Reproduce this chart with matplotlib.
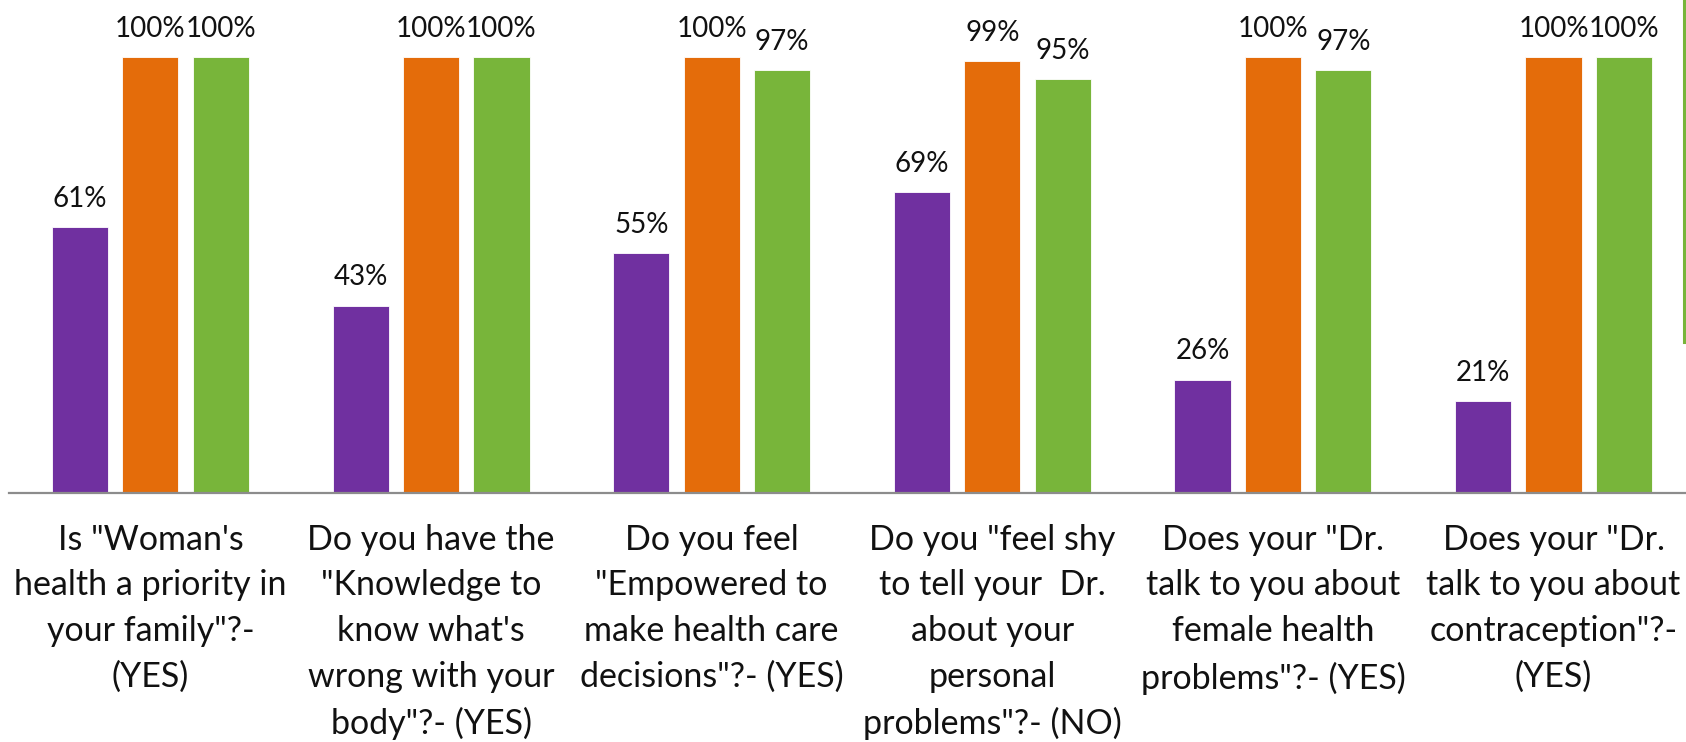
import matplotlib
matplotlib.use("Agg")
import matplotlib.pyplot as plt
from matplotlib.lines import Line2D
import numpy as np

categories = [
    'Is "Woman\'s\nhealth a priority in\nyour family"?-\n(YES)',
    'Do you have the\n"Knowledge to\nknow what\'s\nwrong with your\nbody"?- (YES)',
    'Do you feel\n"Empowered to\nmake health care\ndecisions"?- (YES)',
    'Do you "feel shy\nto tell your  Dr.\nabout your\npersonal\nproblems"?- (NO)',
    'Does your "Dr.\ntalk to you about\nfemale health\nproblems"?- (YES)',
    'Does your "Dr.\ntalk to you about\ncontraception"?-\n(YES)',
]
series_purple = [61, 43, 55, 69, 26, 21]
series_orange = [100, 100, 100, 99, 100, 100]
series_green = [100, 100, 97, 95, 97, 100]

colors = ["#7030A0", "#E46C0A", "#78B53A"]
font = ["Lato", "DejaVu Sans"]

W, H = 1686, 742
fig = plt.figure(figsize=(W / 100, H / 100), dpi=100)
ax = fig.add_axes([9 / W, (H - 493) / H, (W - 9) / W, 493 / H])

x = np.arange(len(categories))
step = 0.251
width = 0.2
for i, (vals, c) in enumerate(zip([series_purple, series_orange, series_green], colors)):
    pos = x + (i - 1) * step
    ax.bar(pos, vals, width=width, color=c, edgecolor="white", linewidth=0.6)
    for p, v in zip(pos, vals):
        ax.annotate(f"{v}%", (p, v), xytext=(0, 11), textcoords="offset points",
                    ha="center", va="bottom", fontsize=20, family=font, color="#111111")

ax.set_xlim(-0.504, 5.472)
ax.set_ylim(0, 113.1)
ax.set_yticks([])
ax.set_xticks(x)
ax.set_xticklabels(categories, fontsize=24.5, family=font, linespacing=1.53, color="#111111")
ax.tick_params(axis="x", length=0, pad=22)
for s in ["top", "right", "left"]:
    ax.spines[s].set_visible(False)
ax.spines["bottom"].set_color("#8c8c8c")
ax.spines["bottom"].set_linewidth(1.6)

# clipped legend border at right edge
fig.add_artist(Line2D([1684 / W, 1684 / W], [1 - 342 / H, 1.0], color="#78B53A", linewidth=2.2))

fig.savefig("out.png", dpi=100)
